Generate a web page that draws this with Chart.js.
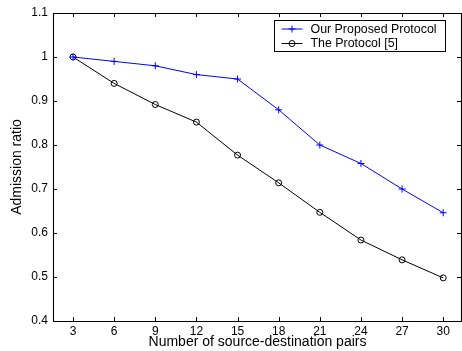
<!DOCTYPE html>
<html>
<head>
<meta charset="utf-8">
<script src="https://cdn.jsdelivr.net/npm/chart.js@4/dist/chart.umd.min.js"></script>
<style>
  html, body { margin: 0; padding: 0; background: #fff; }
  canvas { display: block; }
</style>
</head>
<body>
<canvas id="c" width="462" height="351"></canvas>
<script>
// Number of source-destination pairs
const pairs = [3, 6, 9, 12, 15, 18, 21, 24, 27, 30];
// Admission ratio per protocol
const proposed = [1.0, 0.99, 0.98, 0.96, 0.95, 0.88, 0.80, 0.758, 0.70, 0.646];
const protocol5 = [1.0, 0.94, 0.892, 0.852, 0.777, 0.714, 0.647, 0.584, 0.539, 0.498];
// Axis ticks
const xTicks = [3, 6, 9, 12, 15, 18, 21, 24, 27, 30];
const yTicks = [0.4, 0.5, 0.6, 0.7, 0.8, 0.9, 1.0, 1.1];

const FONT = "'Liberation Sans', Arial, Helvetica, sans-serif";

// Box frame with inward tick marks on all four sides
const frame = {
  id: 'frame',
  afterDraw(chart) {
    const { ctx, chartArea: a, scales } = chart;
    ctx.save();
    ctx.strokeStyle = '#000';
    ctx.lineWidth = 1.1;
    ctx.beginPath();
    ctx.rect(Math.round(a.left) + 0.5, Math.round(a.top) + 0.5,
             Math.round(a.right - a.left) - 1, Math.round(a.bottom - a.top));
    ctx.stroke();
    const t = 4;
    ctx.lineWidth = 1;
    ctx.beginPath();
    scales.x.ticks.forEach(tk => {
      const x = Math.round(scales.x.getPixelForValue(tk.value)) + 0.5;
      ctx.moveTo(x, a.bottom); ctx.lineTo(x, a.bottom - t);
      ctx.moveTo(x, a.top); ctx.lineTo(x, a.top + t);
    });
    scales.y.ticks.forEach(tk => {
      const y = Math.round(scales.y.getPixelForValue(tk.value)) + 0.5;
      ctx.moveTo(a.left, y); ctx.lineTo(a.left + t, y);
      ctx.moveTo(a.right - 1, y); ctx.lineTo(a.right - 1 - t, y);
    });
    ctx.stroke();
    ctx.restore();
  }
};

// Boxed legend in the upper-right corner of the plot
const boxLegend = {
  id: 'boxLegend',
  afterDraw(chart) {
    const { ctx, chartArea: a } = chart;
    const sets = chart.data.datasets;
    ctx.save();
    ctx.font = '12.4px ' + FONT;
    const tw = Math.max(...sets.map(d => ctx.measureText(d.label).width));
    const padL = 7, sample = 21, gap = 8, padR = 9, rowH = 14.5;
    const w = Math.round(padL + sample + gap + tw + padR);
    const h = 31;
    const x0 = Math.round(a.right - 17 - w) + 0.5;
    const y0 = Math.round(a.top + 7) + 0.5;
    ctx.fillStyle = '#fff';
    ctx.fillRect(x0, y0, w, h);
    ctx.strokeStyle = '#000';
    ctx.lineWidth = 1;
    ctx.strokeRect(x0, y0, w, h);
    sets.forEach((d, i) => {
      const yc = y0 + 8.5 + i * rowH;
      const sx = x0 + padL, ex = sx + sample, mx = (sx + ex) / 2;
      ctx.strokeStyle = d.borderColor;
      ctx.lineWidth = 1;
      ctx.beginPath();
      ctx.moveTo(sx, yc); ctx.lineTo(ex, yc);
      ctx.stroke();
      ctx.beginPath();
      if (d.pointStyle === 'cross') {
        const r = d.pointRadius;
        ctx.moveTo(mx - r, yc); ctx.lineTo(mx + r, yc);
        ctx.moveTo(mx, yc - r); ctx.lineTo(mx, yc + r);
      } else {
        ctx.arc(mx, yc, d.pointRadius, 0, Math.PI * 2);
      }
      ctx.stroke();
      ctx.fillStyle = '#000';
      ctx.textBaseline = 'middle';
      ctx.textAlign = 'left';
      ctx.fillText(d.label, ex + gap, yc + 0.5);
    });
    ctx.restore();
  }
};

new Chart(document.getElementById('c'), {
  type: 'line',
  data: {
    datasets: [
      {
        label: 'Our Proposed Protocol',
        data: pairs.map((p, i) => ({ x: p, y: proposed[i] })),
        borderColor: '#0000ff',
        backgroundColor: 'rgba(0,0,0,0)',
        borderWidth: 1,
        pointStyle: 'cross',
        pointRadius: 3.5,
        pointBorderWidth: 1,
        tension: 0
      },
      {
        label: 'The Protocol [5]',
        data: pairs.map((p, i) => ({ x: p, y: protocol5[i] })),
        borderColor: '#000000',
        backgroundColor: 'rgba(0,0,0,0)',
        borderWidth: 1,
        pointStyle: 'circle',
        pointRadius: 3,
        pointBorderWidth: 1,
        tension: 0
      }
    ]
  },
  options: {
    responsive: false,
    animation: false,
    devicePixelRatio: 1,
    layout: { autoPadding: false, padding: { top: 13, right: 0, left: 0, bottom: 0 } },
    plugins: { legend: { display: false }, tooltip: { enabled: false } },
    scales: {
      x: {
        type: 'linear',
        min: 1.54,
        max: 31.37,
        afterBuildTicks: s => { s.ticks = xTicks.map(v => ({ value: v })); },
        afterFit: s => { s.height = 30; },
        grid: { display: false, drawTicks: false },
        border: { display: false },
        ticks: { padding: 3, color: '#000', font: { family: FONT, size: 12 } },
        title: {
          display: true,
          text: 'Number of source-destination pairs',
          color: '#000',
          font: { family: FONT, size: 14 },
          padding: { top: 0, bottom: 0 }
        }
      },
      y: {
        min: 0.4,
        max: 1.1,
        afterBuildTicks: s => { s.ticks = yTicks.map(v => ({ value: v })); },
        afterFit: s => { s.width = 53; },
        grid: { display: false, drawTicks: false },
        border: { display: false },
        ticks: {
          padding: 5,
          color: '#000',
          font: { family: FONT, size: 12 },
          callback: v => String(Math.round(v * 10) / 10)
        },
        title: {
          display: true,
          text: 'Admission ratio',
          color: '#000',
          font: { family: FONT, size: 14 },
          padding: { top: 9, bottom: 0 }
        }
      }
    }
  },
  plugins: [frame, boxLegend]
});
</script>
</body>
</html>
